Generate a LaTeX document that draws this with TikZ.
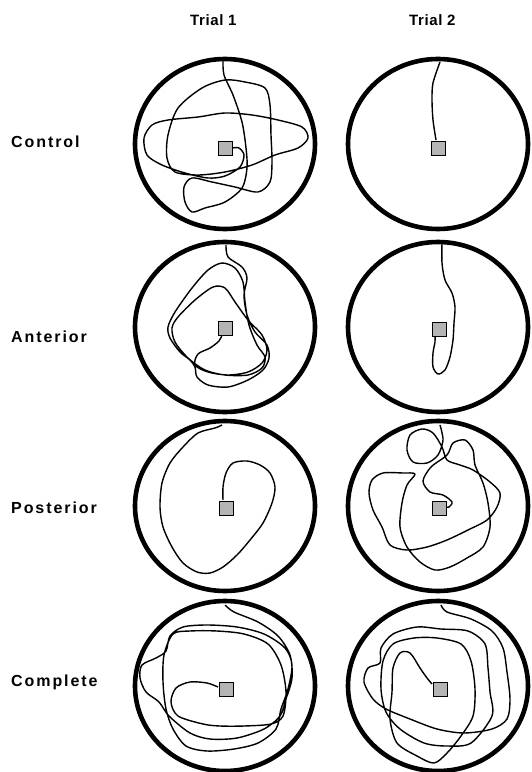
\documentclass[tikz,border=0pt]{standalone}
\usepackage{fontspec}
\usepackage{tikz}
\newfontfamily\labelfont{Liberation Sans}[LetterSpace=12]
\newfontfamily\titlefont{Liberation Sans}[LetterSpace=4]
\definecolor{platgray}{RGB}{180,180,180}
\newcommand{\poolring}[2]{\draw[line width=4.6bp] (#1,#2) ellipse [x radius=90, y radius=85];}
\newcommand{\swimpath}[3]{\draw[line width=1.4bp,line join=round,shift={(#1,#2)}] plot[smooth] coordinates {#3};}
\newcommand{\platform}[3]{\node[draw,fill=platgray,line width=0.8bp,minimum size=14bp,inner sep=0pt] (#1) at (#2,#3) {};}
\newcommand{\rowlabel}[3]{\node[anchor=base west,inner sep=0pt,font=\fontsize{16bp}{19bp}\labelfont\bfseries] (#1) at (11,#2) {#3};}

\begin{document}
\begin{tikzpicture}[x=1bp,y=-1bp]
\useasboundingbox (0,0) rectangle (532,772);
\node[anchor=base west,inner sep=0pt,font=\fontsize{15bp}{18bp}\titlefont\bfseries] (trialA) at (190,26) {Trial 1};
\node[anchor=base west,inner sep=0pt,font=\fontsize{15bp}{18bp}\titlefont\bfseries] (trialB) at (409,26) {Trial 2};
\rowlabel{control}{147}{Control}
\rowlabel{anterior}{342}{Anterior}
\rowlabel{posterior}{513}{Posterior}
\rowlabel{complete}{686}{Complete}
% control
\poolring{225}{144} \poolring{438}{144}
\swimpath{225}{146}{(-2,-86) (-1,-71) (8,-51) (17,-24) (21,2) (22,22) (17,42) (0,56) (-20,62) (-33,66) (-40,56) (-41,41) (-33,32) (-13,36) (10,41) (33,46) (45,36) (47,16) (46,-11) (45,-41) (40,-58) (20,-64) (0,-66) (-23,-58) (-47,-38) (-57,-11) (-58,12) (-50,26) (-27,29) (0,26) (27,19) (50,9) (73,2) (83,-8) (77,-19) (53,-26) (27,-31) (0,-33) (-27,-29) (-57,-26) (-73,-21) (-81,-8) (-78,9) (-63,19) (-40,27) (-17,32) (0,30) (15,21) (19,9) (14,2) (7,2)}
\swimpath{438}{147}{(2,-85) (-5,-64) (-6,-47) (-5,-27) (-2,-7)}
\platform{ctrlA}{225}{148} \platform{ctrlB}{438}{148}
% anterior
\poolring{225}{327} \poolring{438}{327}
\swimpath{225}{328}{(1,-83) (3,-71) (17,-61) (22,-50) (19,-33) (22,-13) (30,4) (42,17) (44,30) (38,42) (23,52) (3,59) (-17,57) (-28,49) (-30,39) (-35,32) (-45,24) (-55,10) (-57,-1) (-50,-16) (-33,-40) (-17,-58) (-3,-65) (10,-60) (18,-46) (20,-26) (24,-3) (32,17) (40,29) (37,40) (23,47) (0,47) (-20,42) (-37,30) (-50,14) (-53,0) (-47,-11) (-30,-28) (-12,-41) (0,-40) (10,-26) (23,-8) (37,7) (42,22) (37,35) (23,44) (3,47) (-17,44) (-30,37) (-27,26) (-15,20) (-6,13) (-3,7)}
\swimpath{439}{329}{(3,-86) (3,-66) (6,-49) (13,-36) (16,-22) (15,-6) (14,11) (11,28) (6,41) (-1,45) (-6,38) (-6,24) (-4,13) (-4,7)}
\platform{antA}{225}{328} \platform{antB}{439}{329}
% posterior
\poolring{225}{506} \poolring{438}{506}
\swimpath{226}{507}{(-4,-82) (-11,-79) (-28,-74) (-43,-60) (-56,-44) (-64,-24) (-66,0) (-63,20) (-54,40) (-43,56) (-29,65) (-16,66) (-3,60) (11,48) (24,33) (37,16) (46,-4) (49,-20) (44,-34) (34,-42) (21,-46) (7,-44) (0,-34) (-3,-20) (-3,-7)}
\swimpath{439}{507}{(1,-82) (4,-67) (-1,-52) (-12,-44) (-26,-45) (-32,-57) (-29,-72) (-17,-78) (-6,-74) (3,-60) (8,-47) (21,-42) (34,-37) (51,-25) (61,-14) (58,0) (48,13) (29,23) (8,33) (-12,40) (-32,43) (-49,38) (-57,20) (-66,3) (-70,-14) (-67,-27) (-56,-34) (-36,-34) (-24,-33) (-32,-22) (-37,-4) (-39,20) (-32,40) (-19,55) (-4,63) (11,60) (28,51) (44,40) (51,20) (49,-4) (44,-24) (36,-42) (34,-57) (26,-67) (14,-64) (8,-52) (-8,-40) (-16,-26) (-9,-15) (4,-12) (13,-5) (10,0) (7,0)}
\platform{postA}{226}{508} \platform{postB}{439}{508}
% complete
\poolring{225}{686} \poolring{438}{686}
\swimpath{225}{687}{(0,-82) (9,-75) (33,-65) (53,-51) (65,-32) (67,-9) (61,12) (55,29) (39,42) (12,51) (-15,52) (-35,46) (-56,29) (-66,15) (-79,5) (-85,-9) (-83,-22) (-69,-29) (-59,-36) (-55,-51) (-42,-60) (-18,-62) (12,-60) (39,-53) (60,-39) (67,-22) (63,2) (56,22) (51,42) (33,56) (9,62) (-18,64) (-39,59) (-52,42) (-59,22) (-62,-5) (-61,-32) (-52,-53) (-35,-56) (-8,-56) (19,-53) (43,-43) (56,-22) (61,5) (58,29) (46,37) (19,39) (-5,39) (-22,37) (-47,29) (-54,15) (-49,1) (-35,-5) (-18,-4) (-7,0)}
\swimpath{439}{687}{(2,-82) (8,-75) (32,-68) (53,-56) (64,-39) (68,-15) (71,12) (68,32) (53,42) (25,46) (-2,42) (-29,32) (-53,22) (-66,12) (-75,-5) (-71,-19) (-59,-24) (-58,-39) (-46,-53) (-22,-60) (2,-58) (29,-56) (46,-43) (49,-19) (51,5) (53,29) (32,56) (8,59) (-15,56) (-39,42) (-53,25) (-58,2) (-56,-26) (-46,-43) (-25,-49) (-2,-49) (22,-43) (32,-26) (36,2) (34,29) (22,49) (8,66) (-5,76) (-22,69) (-42,56) (-49,32) (-47,5) (-46,-19) (-39,-34) (-29,-34) (-19,-19) (-12,-9) (-7,-3)}
\platform{compA}{226}{689} \platform{compB}{440}{689}
\end{tikzpicture}
\end{document}
